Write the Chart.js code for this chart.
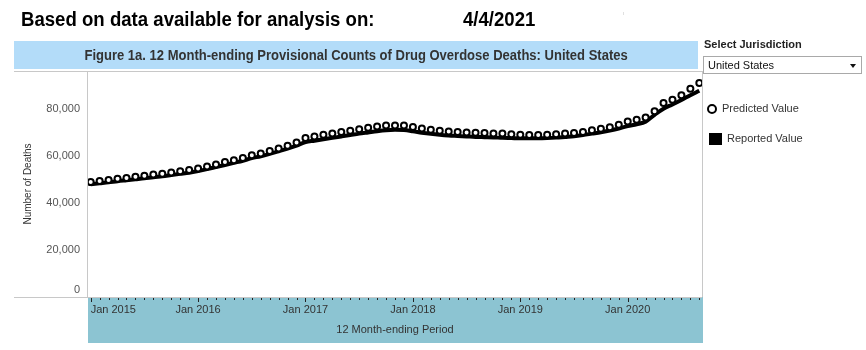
<!DOCTYPE html>
<html>
<head>
<meta charset="utf-8">
<script src="https://cdn.jsdelivr.net/npm/chart.js@4.4.1/dist/chart.umd.min.js"></script>
<style>
  html, body { margin:0; padding:0; background:#fff; }
  body { width:866px; height:350px; position:relative; overflow:hidden; font-family:"Liberation Sans", Arial, sans-serif; }
  .abs { position:absolute; white-space:nowrap; }
  #title, #date { top:9px; font-weight:bold; font-size:20px; line-height:20px; color:#000; transform:scaleX(0.93); transform-origin:0 0; }
  #title { left:21px; }
  #date { left:463px; }
  #hdr { left:14px; top:41px; width:684px; height:28px; background:#b3dcf9; text-align:center; line-height:28px; }
  #hdr span { display:inline-block; font-weight:bold; font-size:14px; color:#333; transform:scaleX(0.93); }
  #selLbl { left:704px; top:38px; font-weight:bold; font-size:11px; line-height:13px; color:#222; }
  #sel { left:703px; top:56px; width:157px; height:16px; border:1px solid #a9a9a9; background:#fff; }
  #sel .txt { position:absolute; left:4px; top:0; font-size:11px; line-height:16px; color:#111; }
  #sel .arr { position:absolute; right:5px; top:7px; width:0; height:0; border-left:3px solid transparent; border-right:3px solid transparent; border-top:4px solid #111; }
  #lgC { left:707px; top:104px; width:6px; height:6px; border:2.5px solid #000; border-radius:50%; background:#fff; }
  #lgCt { left:722px; top:102px; font-size:11px; line-height:13px; color:#333; }
  #lgS { left:709px; top:133px; width:13px; height:12px; background:#000; }
  #lgSt { left:727px; top:132px; font-size:11px; line-height:13px; color:#333; }
  #dot { left:623px; top:12px; width:1px; height:3px; background:#e0e0e0; }
  #c { position:absolute; left:0; top:0; }
</style>
</head>
<body>
<canvas id="c" width="866" height="350"></canvas>
<div id="title" class="abs">Based on data available for analysis on:</div>
<div id="date" class="abs">4/4/2021</div>
<div id="dot" class="abs"></div>
<div id="hdr" class="abs"><span>Figure 1a. 12 Month-ending Provisional Counts of Drug Overdose Deaths: United States</span></div>
<div id="selLbl" class="abs">Select Jurisdiction</div>
<div id="sel" class="abs"><span class="txt">United States</span><span class="arr"></span></div>
<div id="lgC" class="abs"></div>
<div id="lgCt" class="abs">Predicted Value</div>
<div id="lgS" class="abs"></div>
<div id="lgSt" class="abs">Reported Value</div>
<script>
// ---- categories (12 month-ending periods, Jan 2015 .. Sep 2020) ----
const monthNames = ['Jan','Feb','Mar','Apr','May','Jun','Jul','Aug','Sep','Oct','Nov','Dec'];
const years = [2015, 2016, 2017, 2018, 2019, 2020];
const lastPeriod = 'Sep 2020';
const periods = [];
outer: for (const y of years) {
  for (const m of monthNames) {
    periods.push(m + ' ' + y);
    if (m + ' ' + y === lastPeriod) break outer;
  }
}

// ---- series values ----
const predicted = [
  48800, 49300, 49700, 50200, 50600, 51100, 51500, 52000, 52400, 52900, 53400, 53900,
  54600, 55400, 56300, 57300, 58100, 59000, 60200, 61000, 62000, 63100, 64200, 65600,
  67500, 68200, 68900, 69500, 70100, 70600, 71300, 71900, 72400, 72800, 72900, 72800,
  72200, 71600, 71000, 70600, 70300, 70100, 69900, 69800, 69700, 69500, 69400, 69100,
  68900, 68800, 68800, 68900, 69100, 69400, 69700, 70100, 70800, 71500, 72100, 73200,
  74600, 75300, 76300, 78900, 82400, 83800, 85700, 88500, 90900
];
const reported = [
  47900, 48300, 48700, 49200, 49600, 50000, 50400, 50900, 51300, 51800, 52300, 52800,
  53500, 54300, 55200, 56100, 57000, 57900, 59000, 59800, 60800, 61900, 63000, 64300,
  65800, 66400, 67000, 67600, 68200, 68800, 69400, 69900, 70400, 70800, 71000, 70900,
  70400, 69800, 69300, 68900, 68600, 68400, 68200, 68000, 67900, 67800, 67600, 67500,
  67400, 67400, 67400, 67500, 67700, 68000, 68300, 68800, 69400, 70000, 70700, 71600,
  72600, 73400, 74500, 77400, 80000, 81800, 83700, 85700, 87600
];

// ---- tick labels ----
const xTickLabels = ['Jan 2015', 'Jan 2016', 'Jan 2017', 'Jan 2018', 'Jan 2019', 'Jan 2020'];
const yTicks = [0, 20000, 40000, 60000, 80000];

const FONT = '"Liberation Sans", Arial, sans-serif';

const framePlugin = {
  id: 'frame',
  beforeDraw(chart) {
    const {ctx, chartArea: a, scales} = chart;
    ctx.save();
    ctx.fillStyle = '#8cc4d2';
    ctx.fillRect(a.left, a.bottom, a.right - a.left + 1, scales.x.bottom - a.bottom);
    ctx.restore();
  },
  afterDraw(chart) {
    const {ctx, chartArea: a, scales} = chart;
    const xs = scales.x;
    ctx.save();
    ctx.strokeStyle = '#c8c8c8';
    ctx.lineWidth = 1;
    ctx.beginPath();
    ctx.moveTo(14, a.top + 0.5); ctx.lineTo(a.right, a.top + 0.5);
    ctx.moveTo(14, a.bottom + 0.5); ctx.lineTo(a.right, a.bottom + 0.5);
    ctx.moveTo(a.left - 0.5, a.top); ctx.lineTo(a.left - 0.5, a.bottom);
    ctx.moveTo(a.right + 0.5, a.top); ctx.lineTo(a.right + 0.5, a.bottom);
    ctx.stroke();
    ctx.strokeStyle = '#222';
    ctx.beginPath();
    periods.forEach((p, i) => {
      const px = Math.round(xs.getPixelForValue(i)) + 0.5;
      const len = xTickLabels.includes(p) ? 4 : 2;
      ctx.moveTo(px, a.bottom + 1); ctx.lineTo(px, a.bottom + 1 + len);
    });
    ctx.stroke();
    ctx.restore();
  }
};

new Chart(document.getElementById('c'), {
  type: 'line',
  data: {
    datasets: [
      {
        label: 'Predicted Value',
        data: predicted.map((v, i) => ({x: i, y: v})),
        showLine: false,
        pointStyle: 'circle',
        pointRadius: 3,
        pointBorderWidth: 2,
        pointBorderColor: '#000',
        pointBackgroundColor: '#fff',
        order: 0
      },
      {
        label: 'Reported Value',
        data: reported.map((v, i) => ({x: i, y: v})),
        borderColor: '#000',
        borderWidth: 4,
        pointRadius: 0,
        fill: false,
        cubicInterpolationMode: 'monotone',
        order: 1
      }
    ]
  },
  options: {
    responsive: false,
    animation: false,
    events: [],
    layout: { padding: { left: 0, right: 164, top: 71, bottom: 7 } },
    plugins: { legend: { display: false }, tooltip: { enabled: false } },
    scales: {
      x: {
        type: 'linear',
        min: -0.3,
        max: 68.3,
        afterBuildTicks: s => { s.ticks = periods.map((p, i) => ({value: i})); },
        afterFit: s => { s.height = 46; },
        grid: { display: false, drawTicks: false },
        border: { display: false },
        ticks: {
          autoSkip: false,
          maxRotation: 0,
          align: 'inner',
          padding: 6,
          color: '#333',
          font: { family: FONT, size: 11 },
          callback: v => (xTickLabels.includes(periods[v]) ? periods[v] : '')
        },
        title: {
          display: true,
          text: '12 Month-ending Period',
          color: '#333',
          font: { family: FONT, size: 11 },
          padding: { top: 0, bottom: 6 }
        }
      },
      y: {
        min: 0,
        max: 96000,
        afterBuildTicks: s => { s.ticks = yTicks.map(v => ({value: v})); },
        afterFit: s => { s.width = 88; },
        grid: { display: false, drawTicks: false },
        border: { display: false },
        ticks: {
          padding: 8,
          color: '#555',
          font: { family: FONT, size: 11 },
          callback: v => (v === 0 ? ['0', ''] : v.toLocaleString('en-US'))
        },
        title: {
          display: true,
          text: 'Number of Deaths',
          color: '#333',
          font: { family: FONT, size: 10 },
          padding: { top: 22, bottom: 0 }
        }
      }
    }
  },
  plugins: [framePlugin]
});
</script>
</body>
</html>
